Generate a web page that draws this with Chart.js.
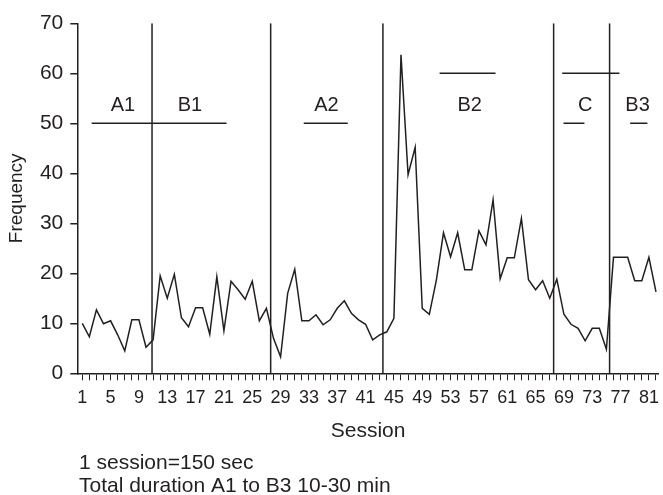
<!DOCTYPE html>
<html>
<head>
<meta charset="utf-8">
<script src="https://cdn.jsdelivr.net/npm/chart.js@4.4.1/dist/chart.umd.min.js"></script>
<style>
  html, body { margin: 0; padding: 0; background: #fff; }
  #wrap { width: 663px; height: 495px; }
</style>
</head>
<body>
<div id="wrap"><canvas id="freqChart" width="663" height="495"></canvas></div>
<script>
// 세션별 빈도 (1 ~ 82)
var freq = [10.0, 7.3, 12.7, 9.9, 10.5, 7.7, 4.5, 10.7, 10.7, 5.2,
	6.7, 19.5, 15.0, 19.8, 11.1, 9.3, 13.1, 13.1, 7.8, 19.3,
	8.5, 18.4, 16.7, 14.8, 18.4, 10.5, 13.0, 7.0, 3.3, 16.0,
	20.8, 10.5, 10.5, 11.7, 9.7, 10.7, 13.0, 14.5, 12.0, 10.7,
	9.8, 6.7, 7.7, 8.3, 11.0, 63.7, 39.7, 45.2, 13.0, 11.8,
	18.7, 28.1, 23.3, 28.1, 20.7, 20.7, 28.5, 25.7, 34.7, 18.9,
	23.1, 23.1, 31.0, 18.7, 16.7, 18.5, 15.0, 18.8, 11.8, 9.8,
	9.0, 6.5, 9.0, 9.0, 4.8, 23.2, 23.2, 23.2, 18.5, 18.5,
	23.2, 16.3];

var xTickLabels = [1, 5, 9, 13, 17, 21, 25, 29, 33, 37, 41, 45, 49, 53, 57, 61, 65, 69, 73, 77, 81];
var yTicks = [0, 10, 20, 30, 40, 50, 60, 70];

// 단계 구분선 (세션 위치)
var phaseChanges = [10.85, 27.6, 43.45, 67.55, 75.45];

// 단계 표시 가로선 [시작, 끝, 높이]
var phaseBars = [
	[2.33, 21.37, 50],
	[32.27, 38.48, 50],
	[51.45, 59.35, 60],
	[68.76, 76.84, 60],
	[68.94, 71.9, 50],
	[78.35, 80.79, 50]
];

var phaseNames = ['A1', 'B1', 'A2', 'B2', 'C', 'B3'];
var phaseNameX = [6.75, 16.2, 35.47, 55.7, 72.0, 79.4];
var phaseNameY = 53.5;

var footerLines = ['1 session=150 sec', 'Total duration A1 to B3 10-30 min'];

var ink = '#231f20';
Chart.defaults.font.family = '"Liberation Sans", Arial, sans-serif';
Chart.defaults.color = ink;

var datasets = [{
	data: freq.map(function(v, i) { return { x: i + 1, y: v }; }),
	borderColor: ink,
	borderWidth: 1.5,
	pointRadius: 0,
	tension: 0
}];

phaseChanges.forEach(function(s) {
	datasets.push({
		data: [{ x: s, y: 0 }, { x: s, y: 70 }],
		borderColor: ink,
		borderWidth: 1.5,
		pointRadius: 0
	});
});

phaseBars.forEach(function(b) {
	datasets.push({
		data: [{ x: b[0], y: b[2] }, { x: b[1], y: b[2] }],
		borderColor: ink,
		borderWidth: 1.5,
		pointRadius: 0
	});
});

// 단계 이름과 하단 설명 텍스트
var textPlugin = {
	id: 'phaseText',
	afterDraw: function(chart) {
		var ctx = chart.ctx;
		var xs = chart.scales.x, ys = chart.scales.y;
		ctx.save();
		ctx.fillStyle = ink;
		ctx.textBaseline = 'middle';
		ctx.textAlign = 'center';
		ctx.font = '20px "Liberation Sans", Arial, sans-serif';
		phaseNames.forEach(function(name, i) {
			ctx.fillText(name, xs.getPixelForValue(phaseNameX[i]), ys.getPixelForValue(phaseNameY));
		});
		ctx.textAlign = 'left';
		ctx.font = '21px "Liberation Sans", Arial, sans-serif';
		ctx.fillText(footerLines[0], 79, 463);
		ctx.fillText(footerLines[1], 79, 486);
		ctx.restore();
	}
};

var chart = new Chart(document.getElementById('freqChart'), {
	type: 'line',
	data: { datasets: datasets },
	options: {
		responsive: false,
		animation: false,
		devicePixelRatio: 1,
		layout: { padding: { top: 23.3, right: 3.6, bottom: 51.4, left: 0 } },
		plugins: { legend: { display: false }, tooltip: { enabled: false } },
		scales: {
			x: {
				type: 'linear',
				min: 0.3,
				max: 82.4,
				afterBuildTicks: function(s) {
					s.ticks = freq.map(function(v, i) { return { value: i + 1 }; });
				},
				afterFit: function(s) { s.height = 70.3; },
				ticks: {
					autoSkip: false,
					maxRotation: 0,
					padding: 7,
					font: { size: 18 },
					callback: function(v) { return xTickLabels.indexOf(v) >= 0 ? String(v) : ''; }
				},
				grid: { drawOnChartArea: false, tickLength: 7, color: ink, lineWidth: 1 },
				border: { color: ink, width: 1.5 },
				title: { display: true, text: 'Session', font: { size: 21 }, padding: 0 }
			},
			y: {
				min: 0,
				max: 70,
				afterBuildTicks: function(s) {
					s.ticks = yTicks.map(function(v) { return { value: v }; });
				},
				afterFit: function(s) { s.width = 77.3; },
				ticks: { padding: 7, font: { size: 21 } },
				grid: { drawOnChartArea: false, tickLength: 7, color: ink, lineWidth: 1.5 },
				border: { color: ink, width: 1.5 },
				title: { display: true, text: 'Frequency', font: { size: 19 }, padding: { top: 5.6, bottom: 0 } }
			}
		}
	},
	plugins: [textPlugin]
});
</script>
</body>
</html>
